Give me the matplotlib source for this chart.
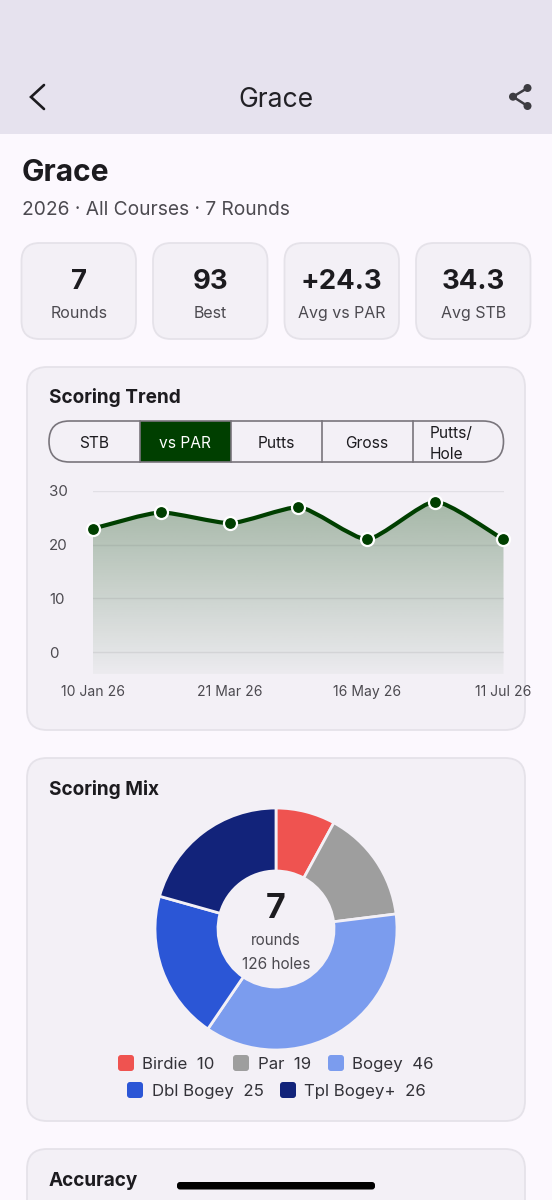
import numpy as np
import matplotlib
matplotlib.use('Agg')
import matplotlib.pyplot as plt
from matplotlib.patches import FancyBboxPatch, PathPatch, Rectangle, Circle
from matplotlib.path import Path

plt.rcParams['font.family'] = ['Inter', 'DejaVu Sans']

W, H = 552, 1200

# data
name = 'Grace'
subtitle = '2026 · All Courses · 7 Rounds'
stat_values = ['7', '93', '+24.3', '34.3']
stat_labels = ['Rounds', 'Best', 'Avg vs PAR', 'Avg STB']
tabs = ['STB', 'vs PAR', 'Putts', 'Gross', 'Putts/\nHole']
trend_values = [23, 26, 24, 27, 21, 28, 21]
trend_ticks = [0, 2, 4, 6]
trend_ticklabels = ['10 Jan 26', '21 Mar 26', '16 May 26', '11 Jul 26']
y_ticks = [0, 10, 20, 30]
mix_names = ['Birdie', 'Par', 'Bogey', 'Dbl Bogey', 'Tpl Bogey+']
mix_values = [10, 19, 46, 25, 26]
mix_colors = ['#ef5350', '#9e9e9e', '#7b9cee', '#2b56d6', '#12237a']

BG = '#fcf8fe'
BAR = '#e6e2ee'
CARD = '#f3f0f6'
EDGE = '#e5e2e9'
DARK = '#1c1b1f'
GREY = '#4c4a50'
GREEN = '#003f00'

fig = plt.figure(figsize=(W / 100, H / 100), dpi=100, facecolor=BG)

# page layer in pixel coordinates, y going down
ui = fig.add_axes([0, 0, 1, 1])
ui.set_xlim(0, W)
ui.set_ylim(H, 0)
ui.axis('off')


def px(size):
    return size * 0.72


def card(x0, y0, x1, y1, r):
    ui.add_patch(FancyBboxPatch((x0 + r, y0 + r), x1 - x0 - 2 * r, y1 - y0 - 2 * r,
                                boxstyle='round,pad=%g,rounding_size=%g' % (r, r),
                                fc=CARD, ec=EDGE, lw=1.3))


def label(x, y, s, size, color=DARK, weight='normal', ha='center'):
    ui.text(x, y, s, fontsize=px(size), color=color, fontweight=weight, ha=ha, va='center_baseline')


# app bar
ui.add_patch(Rectangle((0, 0), W, 134, fc=BAR, ec='none'))
label(276, 97, name, 26.5, '#222126')
ui.plot([44, 31, 44], [85, 97, 109], color=DARK, lw=1.9, solid_capstyle='round', solid_joinstyle='miter')
ui.plot([527.5, 513, 527.5], [88, 96.7, 106], color='#3d3c41', lw=1.8)
for cx, cy in [(527.5, 88), (513, 96.7), (527.5, 106)]:
    ui.add_patch(Circle((cx, cy), 4.0, fc='#3d3c41', ec='none', zorder=3))

# heading
label(22, 170, name, 30, '#1c1b1f', 'bold', 'left')
label(22, 208, subtitle, 19.2, GREY, 'normal', 'left')

# stat cards
stat_x = [(21.5, 136), (153, 267.5), (284.5, 399), (416, 530.5)]
for (x0, x1), v, l in zip(stat_x, stat_values, stat_labels):
    card(x0, 243, x1, 339, 18)
    label((x0 + x1) / 2, 279, v, 27.5, DARK, 'bold')
    label((x0 + x1) / 2, 312, l, 16, GREY)

# scoring trend card
card(27, 367, 525, 730, 20)
label(49, 395.5, 'Scoring Trend', 19, DARK, 'bold', 'left')

# segmented control
seg_x = [49, 139.5, 230.5, 321.5, 412.5, 503.5]
seg_top, seg_bot = 421, 462
ui.add_patch(Rectangle((seg_x[1], seg_top), seg_x[2] - seg_x[1], seg_bot - seg_top, fc=GREEN, ec='none'))
ui.add_patch(FancyBboxPatch((seg_x[0] + 20.5, seg_top + 20.5), seg_x[5] - seg_x[0] - 41, 0,
                            boxstyle='round,pad=20.5,rounding_size=20.5', fc='none', ec='#79757c', lw=1.2))
for x in seg_x[1:5]:
    ui.plot([x, x], [seg_top, seg_bot], color='#79757c', lw=1.2)
for i, t in enumerate(tabs):
    cx = (seg_x[i] + seg_x[i + 1]) / 2
    col = 'white' if i == 1 else DARK
    if '\n' in t:
        first, second = t.split('\n')
        label(seg_x[i] + 17, 432, first, 15.5, col, 'normal', 'left')
        label(seg_x[i] + 17, 453, second, 15.5, col, 'normal', 'left')
    else:
        label(cx, 442, t, 15.5, col)

# trend chart, axes placed so that 0 -> y=652, 30 -> y=491, x runs 93..503.5
y_per_px = 30 / (652 - 491)
ax_top, ax_bot = 491, 674
ax = fig.add_axes([93 / W, 1 - ax_bot / H, 410.5 / W, (ax_bot - ax_top) / H], facecolor='none')
y_low = -(ax_bot - 652) * y_per_px
xs = np.arange(len(trend_values))
ys = np.array(trend_values, dtype=float)

# smooth curve through the points, flat tangent at each peak and dip
slopes = np.zeros(len(ys))
slopes[0] = ys[1] - ys[0]
slopes[-1] = ys[-1] - ys[-2]
for i in range(1, len(ys) - 1):
    if (ys[i] - ys[i - 1]) * (ys[i + 1] - ys[i]) > 0:
        slopes[i] = (ys[i + 1] - ys[i - 1]) / 2
verts = [(xs[0], ys[0])]
codes = [Path.MOVETO]
ctrl = 0.2
for i in range(len(xs) - 1):
    verts += [(xs[i] + ctrl, ys[i] + slopes[i] * ctrl),
              (xs[i + 1] - ctrl, ys[i + 1] - slopes[i + 1] * ctrl),
              (xs[i + 1], ys[i + 1])]
    codes += [Path.CURVE4, Path.CURVE4, Path.CURVE4]

fill_path = Path(verts + [(xs[-1], y_low), (xs[0], y_low), (xs[0], ys[0])],
                 codes + [Path.LINETO, Path.LINETO, Path.LINETO])
clip = PathPatch(fill_path, fc='none', ec='none', transform=ax.transData)
ax.add_patch(clip)
grad = np.zeros((256, 1, 4))
grad[..., :3] = matplotlib.colors.to_rgb(GREEN)
grad[..., 3] = np.linspace(0.32, 0.03, 256)[:, None]
im = ax.imshow(grad, extent=(0, 6, y_low, max(trend_values)), origin='upper', aspect='auto', zorder=1)
im.set_clip_path(clip)
for t in y_ticks:
    ax.axhline(t, color='#4c4a50', alpha=0.1, lw=1, zorder=2)
ax.add_patch(PathPatch(Path(verts, codes), fc='none', ec=GREEN, lw=3, zorder=3, clip_on=False))
ax.plot(xs, ys, 'o', ms=9.4, mfc=GREEN, mec='white', mew=1.6, zorder=4, clip_on=False)
ax.set_xlim(0, 6)
ax.set_ylim(y_low, 30)
ax.set_xticks(trend_ticks)
ax.set_xticklabels(trend_ticklabels, fontsize=px(14), color=GREY)
ax.set_yticks(y_ticks)
ax.set_yticklabels([str(t) for t in y_ticks], fontsize=px(15), color=GREY, ha='left')
ax.tick_params(axis='x', length=0, pad=px(11))
ax.tick_params(axis='y', length=0, pad=px(44))
for s in ax.spines.values():
    s.set_visible(False)

# scoring mix card
card(27, 758, 525, 1121, 20)
label(49, 787.5, 'Scoring Mix', 19, DARK, 'bold', 'left')

pie_ax = fig.add_axes([(276 - 121) / W, 1 - (929 + 121) / H, 242 / W, 242 / H])
pie_ax.pie(mix_values, colors=mix_colors, startangle=90, counterclock=False, radius=1,
           wedgeprops=dict(width=63 / 121, edgecolor=CARD, linewidth=2))
pie_ax.set_xlim(-1, 1)
pie_ax.set_ylim(-1, 1)

label(276, 906, str(len(trend_values)), 34, DARK, 'bold')
label(276, 939, 'rounds', 15.2, GREY)
label(276, 963, '%d holes' % sum(mix_values), 15.4, GREY)

# legend
leg_pos = [(118, 1063), (233, 1063), (328, 1063), (127, 1090), (280, 1090)]
for (x, y), n, v, c in zip(leg_pos, mix_names, mix_values, mix_colors):
    ui.add_patch(FancyBboxPatch((x + 3, y - 5), 10, 10, boxstyle='round,pad=3,rounding_size=3', fc=c, ec='none'))
    label(x + 24.5, y, '%s  %d' % (n, v), 16.8, '#333238', 'normal', 'left')

# accuracy card, runs off the bottom of the screen
card(27, 1149, 525, 1260, 20)
label(49, 1179, 'Accuracy', 19, DARK, 'bold', 'left')

# home indicator
ui.add_patch(FancyBboxPatch((180, 1185), 192, 1.5, boxstyle='round,pad=3,rounding_size=3', fc='black', ec='none', zorder=5))

fig.savefig('out.png', dpi=100, facecolor=BG)
